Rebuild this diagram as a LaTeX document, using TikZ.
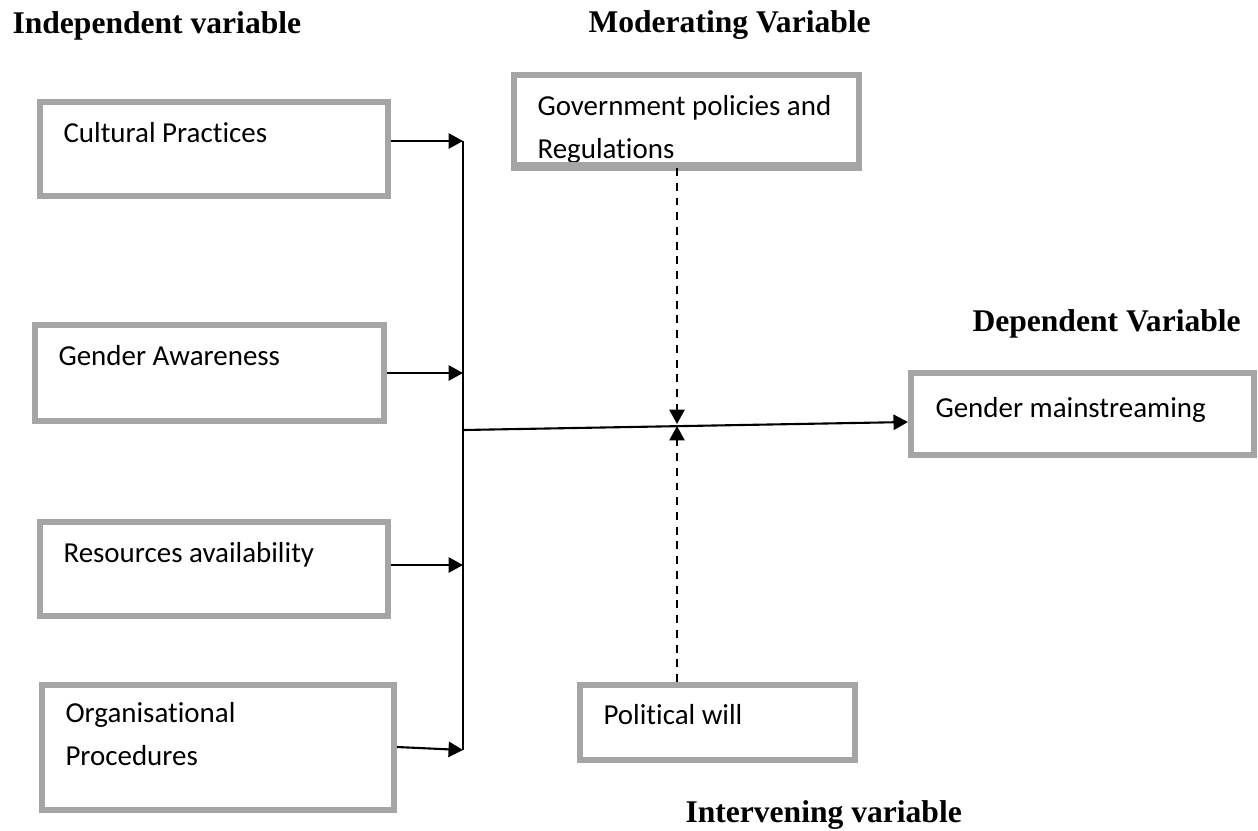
\documentclass[tikz,border=0pt]{standalone}
\usepackage{fontspec}
\setmainfont{Liberation Serif}
\newfontfamily\carlito[Ligatures=NoCommon]{Carlito}
\usetikzlibrary{arrows.meta,fit,calc}
\definecolor{boxgray}{HTML}{A5A5A5}

\begin{document}
\begin{tikzpicture}[x=0.38pt, y=-0.38pt,
    varbox/.style={draw=boxgray, line width=2.3pt, inner sep=0pt},
    boxtext/.style={anchor=base west, inner sep=0pt, align=left,
        font=\carlito\fontsize{11}{16}\selectfont},
    heading/.style={anchor=base west, inner sep=0pt,
        font=\fontsize{12}{14}\selectfont\bfseries},
    arr/.style={line width=0.8pt, -{Triangle[length=5.5pt,width=5.8pt]}},
    modarr/.style={arr, dash pattern=on 3pt off 2.6pt}]
    \useasboundingbox (0,0) rectangle (1258,830);

    % Headings
    \node[heading] (indephead) at (12,33) {Independent variable};
    \node[heading] (modhead) at (588,32) {Moderating Variable};
    \node[heading] (dephead) at (972,331) {Dependent Variable};
    \node[heading] (inthead) at (685,822) {Intervening variable};

    % Independent variables
    \node[varbox, fit={(40,102) (388,196)}] (cult) {};
    \node[varbox, fit={(35,325) (384,421)}] (aware) {};
    \node[varbox, fit={(40,522) (388,616)}] (resou) {};
    \node[varbox, fit={(42,685) (394,810)}] (orga) {};
    \node[boxtext] (culttxt) at (63,142) {Cultural Practices};
    \node[boxtext] (awaretxt) at (58,365) {Gender Awareness};
    \node[boxtext] (resoutxt) at (63,562) {Resources availability};
    \node[boxtext] (orgatxt) at (65,765) {Organisational\\Procedures};

    % Moderating, intervening and dependent variables
    \node[boxtext] (govtxt) at (537,158) {Government policies and\\Regulations};
    \node[varbox, fit={(514,75) (859,165)}] (gov) {};
    \draw[boxgray, line width=2.3pt] (gov.south west) -- (gov.south east);
    \node[varbox, fit={(580,685) (855,760)}] (pol) {};
    \node[boxtext] (poltxt) at (603,724) {Political will};
    \node[varbox, fit={(911,373) (1254,455)}] (gm) {};
    \node[boxtext] (gmtxt) at (935,417) {Gender mainstreaming};

    % Collecting line
    \coordinate (b1) at (463,141);
    \coordinate (b2) at (463,373);
    \coordinate (b3) at (463,565);
    \coordinate (b4) at (463,750);
    \coordinate (bm) at (463,430);
    \draw[line width=0.8pt] (b1) -- (b4);
    \draw[arr] (cult.east |- b1) -- (b1);
    \draw[arr] (aware.east |- b2) -- (b2);
    \draw[arr] (resou.east |- b3) -- (b3);
    \draw[arr] (orga.east |- 0,747) -- (b4);

    % Main arrow
    \draw[arr] (bm) -- (gm.west |- 0,422);

    % Dashed arrows meeting the main arrow
    \coordinate (cross) at (677,424);
    \coordinate (cross2) at (677,426);
    \draw[modarr] (gov.south -| cross) -- (cross);
    \draw[modarr] (pol.north -| cross) -- (cross2);
\end{tikzpicture}
\end{document}
